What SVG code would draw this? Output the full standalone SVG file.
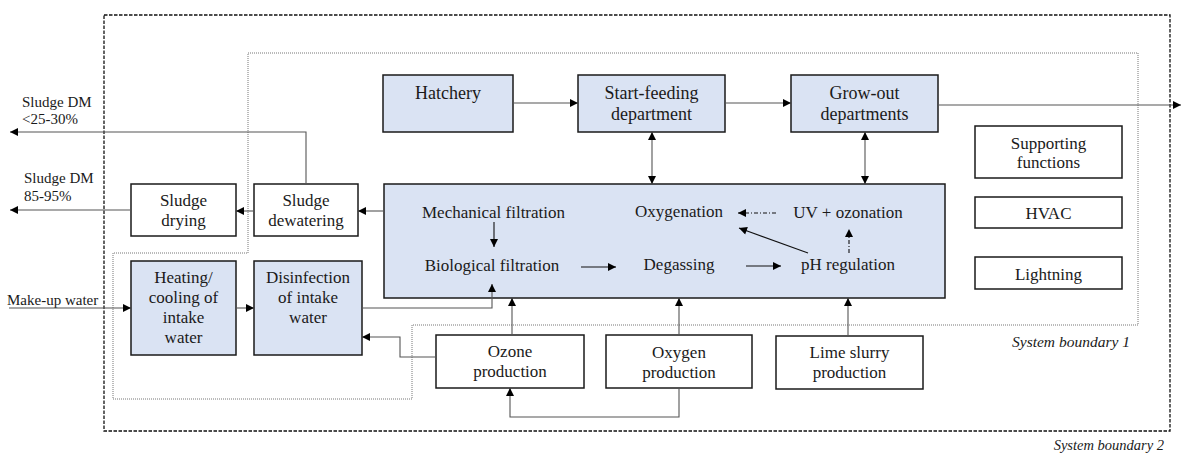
<svg xmlns="http://www.w3.org/2000/svg" width="1182" height="453" viewBox="0 0 1182 453">
<defs>
<marker id="ah" viewBox="0 0 10 10" refX="10" refY="5" markerUnits="userSpaceOnUse" markerWidth="9" markerHeight="8" orient="auto-start-reverse">
<path d="M0,0 L10,5 L0,10 z" fill="#000"/>
</marker>
<style>
.box{stroke:#1a1a1a;stroke-width:1.5;fill:#fff}
.blue{fill:#dae3f3}
text{font-family:'Liberation Serif','Times New Roman',Times,serif}
.t{font-size:17px;fill:#1a1a1a;text-anchor:middle}
.t18{font-size:18px}
.lab{font-size:15px;fill:#1a1a1a}
.it{font-style:italic;fill:#1a1a1a}
.c{fill:none;stroke:#555;stroke-width:1.1}
.ci{fill:none;stroke:#111;stroke-width:1.1}
.dd{stroke-dasharray:4 2 1 2}
</style>
</defs>
<rect width="1182" height="453" fill="#fff"/>

<g id="boundary2">
<rect x="104" y="15" width="1066" height="416" fill="none" stroke="#111" stroke-width="1.3" stroke-dasharray="3.5 1.5"/>
<text class="it" x="1164" y="450" font-size="14.5" text-anchor="end">System boundary 2</text>
</g>
<g id="boundary1">
<polygon points="248,53 1138,53 1138,325 412,325 412,399 113,399 113,253 248,253" fill="none" stroke="#777" stroke-width="1" stroke-dasharray="1 1"/>
<text class="it" x="1012" y="347" font-size="15.5">System boundary 1</text>
</g>

<g id="hatchery"><rect class="box blue" x="383" y="75" width="130" height="57"/><text class="t t18" x="448" y="99">Hatchery</text></g>
<g id="startfeeding"><rect class="box blue" x="578" y="75" width="147" height="57"/><text class="t t18" x="651.5" y="99">Start-feeding</text><text class="t t18" x="651.5" y="120">department</text></g>
<g id="growout"><rect class="box blue" x="791" y="75" width="147" height="57"/><text class="t t18" x="864.5" y="99">Grow-out</text><text class="t t18" x="864.5" y="120">departments</text></g>
<g id="supporting"><rect class="box" x="975" y="126" width="147" height="52"/><text class="t" x="1048.5" y="149">Supporting</text><text class="t" x="1048.5" y="168">functions</text></g>
<g id="hvac"><rect class="box" x="975" y="197" width="147" height="31"/><text class="t" x="1048.5" y="219">HVAC</text></g>
<g id="lightning"><rect class="box" x="975" y="257" width="147" height="32"/><text class="t" x="1048.5" y="280">Lightning</text></g>

<g id="treatment">
<rect class="box blue" x="384" y="184" width="561" height="114"/>
<text class="t" x="493.5" y="217.5">Mechanical filtration</text>
<text class="t" x="492" y="270.5">Biological filtration</text>
<text class="t" x="679" y="217">Oxygenation</text>
<text class="t" x="679" y="270">Degassing</text>
<text class="t" x="848" y="218">UV + ozonation</text>
<text class="t" x="848" y="269.5">pH regulation</text>
</g>

<g id="sludgedewatering"><rect class="box" x="254" y="184" width="104" height="52"/><text class="t" x="306" y="206">Sludge</text><text class="t" x="306" y="226">dewatering</text></g>
<g id="sludgedrying"><rect class="box" x="131" y="184" width="105" height="52"/><text class="t" x="183.5" y="206">Sludge</text><text class="t" x="183.5" y="226">drying</text></g>
<g id="heating"><rect class="box blue" x="131" y="261" width="105" height="94"/><text class="t" x="183.5" y="283">Heating/</text><text class="t" x="183.5" y="303">cooling of</text><text class="t" x="183.5" y="323">intake</text><text class="t" x="183.5" y="343">water</text></g>
<g id="disinfection"><rect class="box blue" x="254" y="261" width="108" height="94"/><text class="t" x="308" y="283">Disinfection</text><text class="t" x="308" y="303">of intake</text><text class="t" x="308" y="323">water</text></g>
<g id="ozone"><rect class="box" x="436" y="335" width="148" height="53"/><text class="t" x="510" y="357">Ozone</text><text class="t" x="510" y="377">production</text></g>
<g id="oxygen"><rect class="box" x="606" y="335" width="146" height="53"/><text class="t" x="679" y="357.5">Oxygen</text><text class="t" x="679" y="377.5">production</text></g>
<g id="lime"><rect class="box" x="776" y="336" width="147" height="53"/><text class="t" x="849.5" y="358">Lime slurry</text><text class="t" x="849.5" y="377.5">production</text></g>

<g id="labels">
<text class="lab" x="22" y="107">Sludge DM</text>
<text class="lab" x="22" y="124">&lt;25-30%</text>
<text class="lab" x="24" y="183">Sludge DM</text>
<text class="lab" x="24" y="201">85-95%</text>
<text class="lab" x="7" y="305">Make-up water</text>
</g>

<g id="connectors">
<path class="c" d="M513,103 H578" marker-end="url(#ah)"/>
<path class="c" d="M725,103 H791" marker-end="url(#ah)"/>
<path class="c" d="M938,105 H1181" marker-end="url(#ah)"/>
<path class="c" d="M652,132 V184" marker-start="url(#ah)" marker-end="url(#ah)"/>
<path class="c" d="M865,132 V184" marker-start="url(#ah)" marker-end="url(#ah)"/>
<path class="c" d="M384,211 H358" marker-end="url(#ah)"/>
<path class="c" d="M254,211 H236" marker-end="url(#ah)"/>
<path class="c" d="M131,210 H10" marker-end="url(#ah)"/>
<path class="c" d="M306,184 V132 H10" marker-end="url(#ah)"/>
<path class="c" d="M9,308 H131" marker-end="url(#ah)"/>
<path class="c" d="M236,308 H254" marker-end="url(#ah)"/>
<path class="c" d="M362,308 H492 V284" marker-end="url(#ah)"/>
<path class="c" d="M436,357 H400 V337 H362" marker-end="url(#ah)"/>
<path class="c" d="M512,335 V298" marker-end="url(#ah)"/>
<path class="c" d="M679,335 V298" marker-end="url(#ah)"/>
<path class="c" d="M848,336 V298" marker-end="url(#ah)"/>
<path class="c" d="M679,388 V417 H510 V388" marker-end="url(#ah)"/>
<path class="ci" d="M494,222 V247" marker-end="url(#ah)"/>
<path class="ci" d="M581,267 H616" marker-end="url(#ah)"/>
<path class="ci" d="M746,266 H781" marker-end="url(#ah)"/>
<path class="ci dd" d="M776,213 H738" marker-end="url(#ah)"/>
<path class="ci" d="M808,253 L739,228" marker-end="url(#ah)"/>
<path class="ci dd" d="M849,253 V229" marker-end="url(#ah)"/>
</g>
</svg>
